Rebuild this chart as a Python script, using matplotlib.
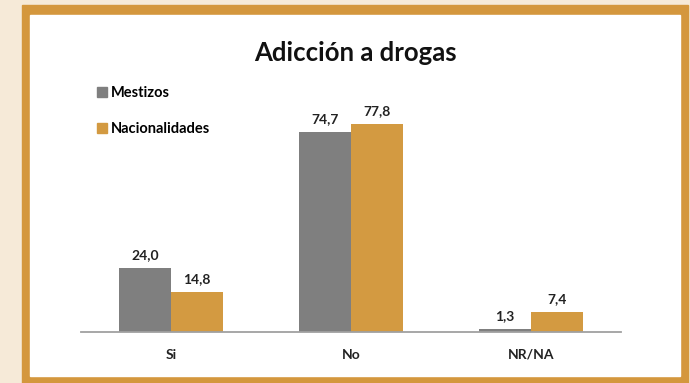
import numpy as np
import matplotlib.pyplot as plt
from matplotlib.patches import Rectangle, Patch

categorias = ['Si', 'No', 'NR/NA']
mestizos = [24.0, 74.7, 1.3]
nacionalidades = [14.8, 77.8, 7.4]
series = ['Mestizos', 'Nacionalidades']

gris = '#7f7f7f'
naranja = '#d39a41'
plt.rcParams['font.family'] = ['Lato', 'DejaVu Sans']

W, H = 690, 383
fig = plt.figure(figsize=(W/100, H/100), dpi=100, facecolor='#f6ead8')

def px(x0, y0, x1, y1):
    # rect in pixel coords (top-left origin) -> figure coords
    return (x0/W, 1 - y1/H), (x1 - x0)/W, (y1 - y0)/H

xy, w, h = px(22, 5, 688, 383)
fig.patches.append(Rectangle(xy, w, h, transform=fig.transFigure, color='#d4973d', zorder=-3))
xy, w, h = px(30, 15, 680, 376)
fig.patches.append(Rectangle(xy, w, h, transform=fig.transFigure, color='white', zorder=-2))

ax = fig.add_axes([81/W, 1 - 332/H, 540/W, 232/H])
ax.set_facecolor('none')
ax.set_zorder(2)

x = np.arange(len(categorias))
bw = 0.29
b1 = ax.bar(x - bw/2, mestizos, bw, color=gris, label=series[0])
b2 = ax.bar(x + bw/2, nacionalidades, bw, color=naranja, label=series[1])

for bars, vals in ((b1, mestizos), (b2, nacionalidades)):
    for b, v in zip(bars, vals):
        ax.annotate(f'{v:.1f}'.replace('.', ','), (b.get_x() + b.get_width()/2, v),
                    xytext=(0, 5), textcoords='offset points', ha='center', va='bottom',
                    fontsize=10, fontweight='bold', color='#222222')

ax.set_xlim(-0.5, 2.5)
ax.set_ylim(0, 232/2.674)
ax.set_yticks([])
ax.set_xticks(x)
ax.set_xticklabels(categorias, fontsize=10, fontweight='bold', color='#222222')
ax.tick_params(axis='x', length=0, pad=12)
for s in ['top', 'right', 'left']:
    ax.spines[s].set_visible(False)
ax.spines['bottom'].set_color('#a0a0a0')
ax.spines['bottom'].set_linewidth(1.3)

fig.text(355/W, 1 - 53/H, 'Adicción a drogas', ha='center', va='center',
         fontsize=18.5, fontweight='bold', color='#111111')

handles = [Patch(color=gris), Patch(color=naranja)]
fig.legend(handles, series, loc='upper left', bbox_to_anchor=(84/W, 1 - 73/H),
           frameon=False, handlelength=0.7, handleheight=0.7,
           handletextpad=0.25, labelspacing=1.5, prop={'weight': 'bold', 'size': 10.5})

fig.savefig('out.png', dpi=100, facecolor=fig.get_facecolor())
